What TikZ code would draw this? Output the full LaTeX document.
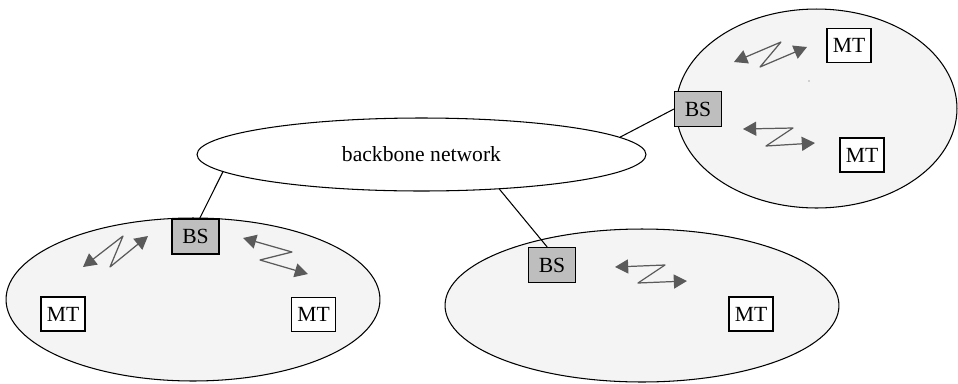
\documentclass[tikz,border=0pt]{standalone}
\usepackage{fontspec}
\setmainfont{Liberation Serif}
\usetikzlibrary{arrows.meta,shapes.geometric}

\definecolor{cellgray}{RGB}{244,244,244}
\definecolor{bsgray}{RGB}{190,190,190}
\definecolor{radiogray}{RGB}{90,90,90}

\begin{document}
\begin{tikzpicture}[
    x=0.02cm, y=-0.02cm,
    font=\fontsize{12.3}{14}\selectfont,
    cell/.style={draw, ellipse, fill=cellgray, line width=0.6pt, inner sep=0pt},
    bs/.style={draw, fill=bsgray, minimum width=0.94cm, minimum height=0.7cm, inner sep=0pt, line width=0.6pt},
    mt/.style={draw, fill=white, minimum width=0.88cm, minimum height=0.68cm, inner sep=0pt, line width=0.6pt},
    radio/.style={draw=radiogray, line width=0.7pt, line join=round, {Triangle[length=7.5pt,width=8pt]}-{Triangle[length=7.5pt,width=8pt]}},
    link/.style={line width=0.6pt}
]
\useasboundingbox (0,0) rectangle (958,383);

% radio cells
\node[cell, minimum width=7.48cm, minimum height=3.26cm] (cellA) at (193,299.5) {};
\node[cell, minimum width=7.88cm, minimum height=3.06cm] (cellB) at (642,305.5) {};
\node[cell, minimum width=5.62cm, minimum height=3.98cm] (cellC) at (816.5,108.5) {};

% backbone
\node[draw, ellipse, fill=white, line width=0.6pt, inner sep=0pt, minimum width=8.98cm, minimum height=1.46cm] (backbone) at (421.5,154.5) {backbone network};

% base stations
\node[bs] (bsA) at (195.5,236.5) {BS};
\node[bs] (bsB) at (552,265) {BS};
\node[bs] (bsC) at (698,109) {BS};

\draw[link] (backbone.185) -- (bsA.77);
\draw[link] (backbone.336) -- (bsB.105);
\draw[link] (backbone.5) -- (bsC.west);

% mobile terminals
\node[mt] (mtA1) at (63,314) {MT};
\node[mt] (mtA2) at (313.5,314.5) {MT};
\node[mt] (mtB1) at (751,314) {MT};
\node[mt] (mtC1) at (849,45.5) {MT};
\node[mt] (mtC2) at (862,155) {MT};

% radio links
\draw[radio] (83,267) -- (123,236) -- (110,267) -- (148,236);
\draw[radio] (243,238) -- (292,252) -- (260,260) -- (308,274);
\draw[radio] (615,267) -- (665,265) -- (638,283) -- (687,281);
\draw[radio] (734,62) -- (781,42) -- (760,67) -- (807,47);
\draw[radio] (743,129) -- (793,128) -- (766,146) -- (815,143);

\fill[radiogray] (809,81) circle[radius=0.4pt];
\end{tikzpicture}
\end{document}
